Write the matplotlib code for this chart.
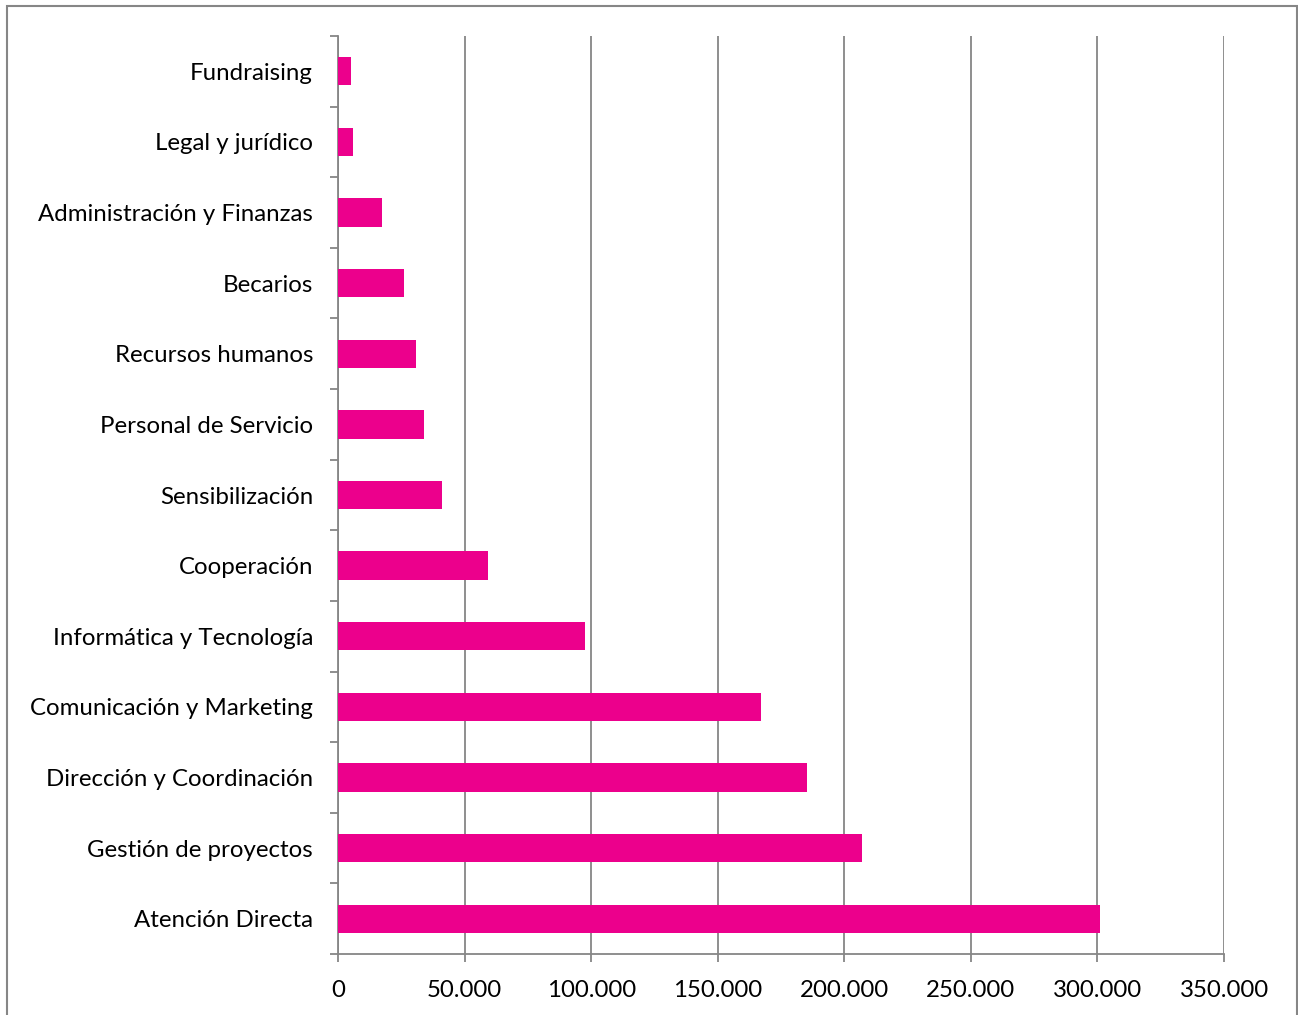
import matplotlib.pyplot as plt
from matplotlib.patches import Rectangle
from matplotlib.ticker import FuncFormatter, MultipleLocator
import numpy as np

plt.rcParams['font.family'] = ['Lato', 'DejaVu Sans']

# Data (bottom to top)
categories = [
    "Atención Directa", "Gestión de proyectos", "Dirección y Coordinación",
    "Comunicación y Marketing", "Informática y Tecnología", "Cooperación",
    "Sensibilización", "Personal de Servicio", "Recursos humanos",
    "Becarios", "Administración y Finanzas", "Legal y jurídico", "Fundraising",
]
values = [301000, 207000, 185300, 167100, 97600, 59300,
          41100, 34000, 30800, 26100, 17400, 6000, 5200]

fig = plt.figure(figsize=(12.98, 10.15), dpi=100)
ax = fig.add_axes([338 / 1298, 61 / 1015, 886 / 1298, 918 / 1015])

y = np.arange(len(categories))
ax.barh(y, values, height=0.4, color='#EC008C', zorder=3)

ax.set_xlim(0, 350000)
ax.set_ylim(-0.5, len(categories) - 0.5)
ax.xaxis.set_major_locator(MultipleLocator(50000))
ax.xaxis.set_major_formatter(FuncFormatter(lambda v, p: f"{int(v):,}".replace(",", ".")))

ax.set_yticks(y)
ax.set_yticklabels(categories)
ax.set_yticks(np.arange(-0.5, len(categories)), minor=True)
ax.tick_params(axis='y', which='major', length=0, pad=18, labelsize=17.3, labelcolor='black')
ax.tick_params(axis='y', which='minor', length=6, color='#868686', width=1.3)
ax.tick_params(axis='x', length=6, color='#868686', width=1.3, labelsize=17.3, pad=13)

ax.grid(axis='x', color='#868686', linewidth=1.3, zorder=0)
for s in ['top', 'right']:
    ax.spines[s].set_visible(False)
for s in ['left', 'bottom']:
    ax.spines[s].set_color('#868686')
    ax.spines[s].set_linewidth(1.3)

# outer chart border
fig.patches.append(Rectangle((7 / 1298, -0.01), 1290 / 1298, 1.01 - 6 / 1015,
                             transform=fig.transFigure, fill=False,
                             edgecolor='#868686', linewidth=1.5))

fig.savefig("out.png", dpi=100)
